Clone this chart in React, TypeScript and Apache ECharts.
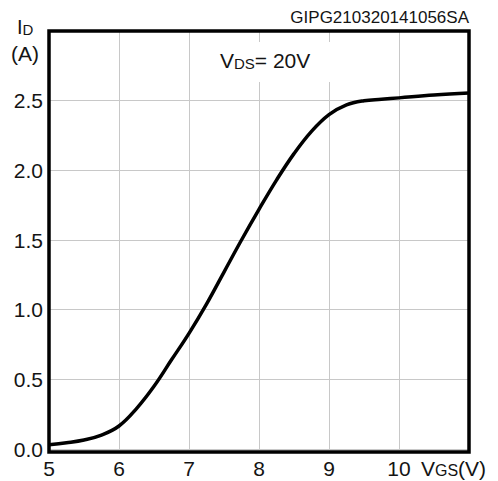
import React, { useEffect, useRef } from "react";
import * as echarts from "echarts";

const vgs = [5.0, 5.25, 5.5, 5.75, 6.0, 6.25, 6.5, 6.75, 7.0, 7.25, 7.5, 7.75, 8.0, 8.25, 8.5, 8.75, 9.0, 9.25, 9.5, 9.75, 10.0, 10.5, 11.0];
const idA = [0.03, 0.045, 0.065, 0.1, 0.165, 0.29, 0.45, 0.64, 0.83, 1.04, 1.27, 1.5, 1.72, 1.93, 2.12, 2.28, 2.4, 2.47, 2.5, 2.51, 2.52, 2.54, 2.555];
const xTicks = [5, 6, 7, 8, 9, 10];
const yTicks = ["0.0", "0.5", "1.0", "1.5", "2.0", "2.5"];
const codeText = "GIPG210320141056SA";

const FONT = "'Liberation Sans', Arial, sans-serif";
const TXT = "#141414";

export default function App() {
  const ref = useRef<HTMLDivElement>(null);
  useEffect(() => {
    if (!ref.current) return;
    const chart = echarts.init(ref.current, undefined, { renderer: "svg" });
    const data = vgs.map((v, i) => [v, idA[i]]);
    chart.setOption({
      animation: false,
      backgroundColor: "#ffffff",
      grid: { left: 49, right: 29, top: 31, bottom: 32, show: false },
      xAxis: {
        type: "value",
        min: 5,
        max: 11,
        interval: 1,
        axisLine: { show: false },
        axisTick: { show: false },
        splitLine: { show: true, lineStyle: { color: "#c8c8c8", width: 1 } },
        axisLabel: {
          margin: 9,
          fontSize: 21,
          fontFamily: FONT,
          color: TXT,
          formatter: (v: number) => (xTicks.indexOf(v) >= 0 ? String(v) : ""),
        },
      },
      yAxis: {
        type: "value",
        min: 0,
        max: 3,
        interval: 0.5,
        axisLine: { show: false },
        axisTick: { show: false },
        splitLine: { show: true, lineStyle: { color: "#c8c8c8", width: 1 } },
        axisLabel: {
          margin: 6,
          fontSize: 21,
          fontFamily: FONT,
          color: TXT,
          formatter: (v: number) => {
            const s = v.toFixed(1);
            return yTicks.indexOf(s) >= 0 ? s : "";
          },
        },
      },
      series: [
        {
          type: "line",
          data,
          smooth: 0.4,
          symbol: "none",
          lineStyle: { color: "#000000", width: 3.5 },
          z: 5,
        },
      ],
      graphic: [
        { type: "rect", z: 50, shape: { x: 205, y: 42, width: 140, height: 40 }, style: { fill: "#ffffff" } },
        {
          type: "text", z: 60, x: 220, y: 60,
          style: {
            text: "{a|V}{b|DS}{a|= 20V}",
            verticalAlign: "middle",
            rich: {
              a: { fontSize: 21, fontFamily: FONT, fill: TXT },
              b: { fontSize: 15, fontFamily: FONT, fill: TXT, verticalAlign: "bottom" },
            },
          },
        },
        {
          type: "rect", z: 100,
          shape: { x: 49, y: 31, width: 420, height: 421 },
          style: { fill: "none", stroke: "#000000", lineWidth: 3.5 },
        },
        {
          type: "text", z: 60, x: 17, y: 27,
          style: {
            text: "{a|I}{b|D}",
            verticalAlign: "middle",
            rich: {
              a: { fontSize: 20, fontFamily: FONT, fill: TXT },
              b: { fontSize: 15, fontFamily: FONT, fill: TXT, verticalAlign: "bottom" },
            },
          },
        },
        {
          type: "text", z: 60, x: 11, y: 53,
          style: { text: "(A)", fontSize: 21, fontFamily: FONT, fill: TXT, verticalAlign: "middle" },
        },
        {
          type: "text", z: 60, x: 421, y: 468,
          style: {
            text: "{a|V}{b|GS}{a|(V)}",
            verticalAlign: "middle",
            rich: {
              a: { fontSize: 21, fontFamily: FONT, fill: TXT },
              b: { fontSize: 16, fontFamily: FONT, fill: TXT, verticalAlign: "bottom" },
            },
          },
        },
        {
          type: "text", z: 60, x: 469, y: 17,
          style: { text: codeText, fontSize: 17, fontFamily: FONT, fill: TXT, align: "right", verticalAlign: "middle" },
        },
      ],
    });
    return () => chart.dispose();
  }, []);
  return <div ref={ref} style={{ position: "fixed", left: 0, top: 0, width: 498, height: 481 }} />;
}
